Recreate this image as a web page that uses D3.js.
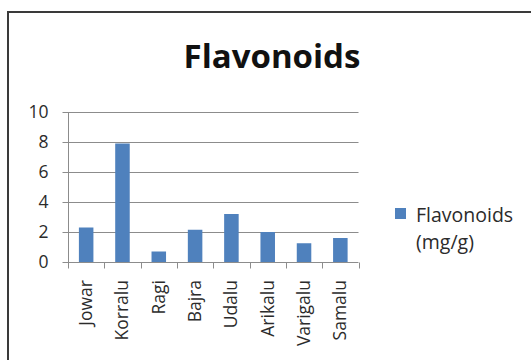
<!DOCTYPE html>
<html>
<head>
<meta charset="utf-8">
<script src="https://cdn.jsdelivr.net/npm/d3@7"></script>
<style>
  html, body { margin: 0; padding: 0; background: #fff; }
  svg { display: block; font-family: "Open Sans", sans-serif; }
</style>
</head>
<body>
<svg id="chart" width="531" height="360"></svg>
<script>
// Flavonoid content of millet varieties (mg/g)
const categories = ["Jowar", "Korralu", "Ragi", "Bajra", "Udalu", "Arikalu", "Varigalu", "Samalu"];
const flavonoids = [2.3, 7.9, 0.7, 2.15, 3.2, 2.0, 1.25, 1.6];
const yTicks = [0, 2, 4, 6, 8, 10];
const seriesName = ["Flavonoids", "(mg/g)"];
const chartTitle = "Flavonoids";

const svg = d3.select("#chart");
const barColor = "#4F81BD";
const textColor = "#2b2b2b";

// outer chart frame (left and top edges visible)
svg.append("path")
  .attr("d", "M8,362 L8,12 L533,12")
  .attr("fill", "none")
  .attr("stroke", "#3a3a3a")
  .attr("stroke-width", 2);

// title
svg.append("text")
  .attr("x", 272)
  .attr("y", 68)
  .attr("text-anchor", "middle")
  .attr("font-weight", "bold")
  .attr("font-size", 33)
  .attr("fill", "#111")
  .text(chartTitle);

const x = d3.scaleBand().domain(categories).range([68, 358.5]).paddingInner(0.6).paddingOuter(0.3);
const y = d3.scaleLinear().domain([0, 10]).range([262, 112]);

// horizontal gridlines
svg.append("g")
  .selectAll("line")
  .data(yTicks.filter(d => d > 0))
  .join("line")
  .attr("x1", 68).attr("x2", 358.5)
  .attr("y1", d => Math.round(y(d)) + 0.5)
  .attr("y2", d => Math.round(y(d)) + 0.5)
  .attr("stroke", "#8c8c8c")
  .attr("stroke-width", 1);

// bars
svg.append("g")
  .selectAll("rect")
  .data(categories.map((c, i) => ({ c, v: flavonoids[i] })))
  .join("rect")
  .attr("x", d => x(d.c))
  .attr("width", x.bandwidth())
  .attr("y", d => y(d.v))
  .attr("height", d => y(0) - y(d.v))
  .attr("fill", barColor);

// y axis
const yAxis = svg.append("g")
  .attr("transform", "translate(68.5,0)")
  .call(d3.axisLeft(y).tickValues(yTicks).tickSize(6).tickPadding(14).tickFormat(d3.format("d")));
yAxis.select(".domain").attr("stroke", "#8c8c8c").attr("d", `M0,${y(10)}V${y(0)}`);
yAxis.selectAll(".tick line").attr("stroke", "#8c8c8c");
yAxis.selectAll(".tick text")
  .attr("font-size", 17.5)
  .attr("font-family", "Open Sans, sans-serif")
  .attr("fill", textColor);

// x axis: tick marks at category boundaries
const xAxisG = svg.append("g").attr("transform", `translate(0,${Math.round(y(0)) + 0.5})`);
xAxisG.append("line")
  .attr("x1", 68).attr("x2", 358.5)
  .attr("stroke", "#8c8c8c");
const bounds = d3.range(categories.length + 1).map(i => x.range()[0] + i * (x.range()[1] - x.range()[0]) / categories.length);
xAxisG.selectAll("line.tk")
  .data(bounds)
  .join("line")
  .attr("class", "tk")
  .attr("x1", d => Math.round(d) + 0.5).attr("x2", d => Math.round(d) + 0.5)
  .attr("y1", 0).attr("y2", 6)
  .attr("stroke", "#8c8c8c");

// rotated category labels
svg.append("g")
  .selectAll("text")
  .data(categories)
  .join("text")
  .attr("transform", d => `translate(${x(d) + x.bandwidth() / 2 + 6},280) rotate(-90)`)
  .attr("text-anchor", "end")
  .attr("font-size", 17.5)
  .attr("fill", textColor)
  .text(d => d);

// legend
const legend = svg.append("g");
legend.append("rect")
  .attr("x", 395).attr("y", 208)
  .attr("width", 11).attr("height", 11)
  .attr("fill", barColor);
legend.append("text")
  .attr("x", 416)
  .attr("font-size", 19.5)
  .attr("fill", textColor)
  .selectAll("tspan")
  .data(seriesName)
  .join("tspan")
  .attr("x", 416)
  .attr("y", (d, i) => 222 + i * 27)
  .text(d => d);
</script>
</body>
</html>
